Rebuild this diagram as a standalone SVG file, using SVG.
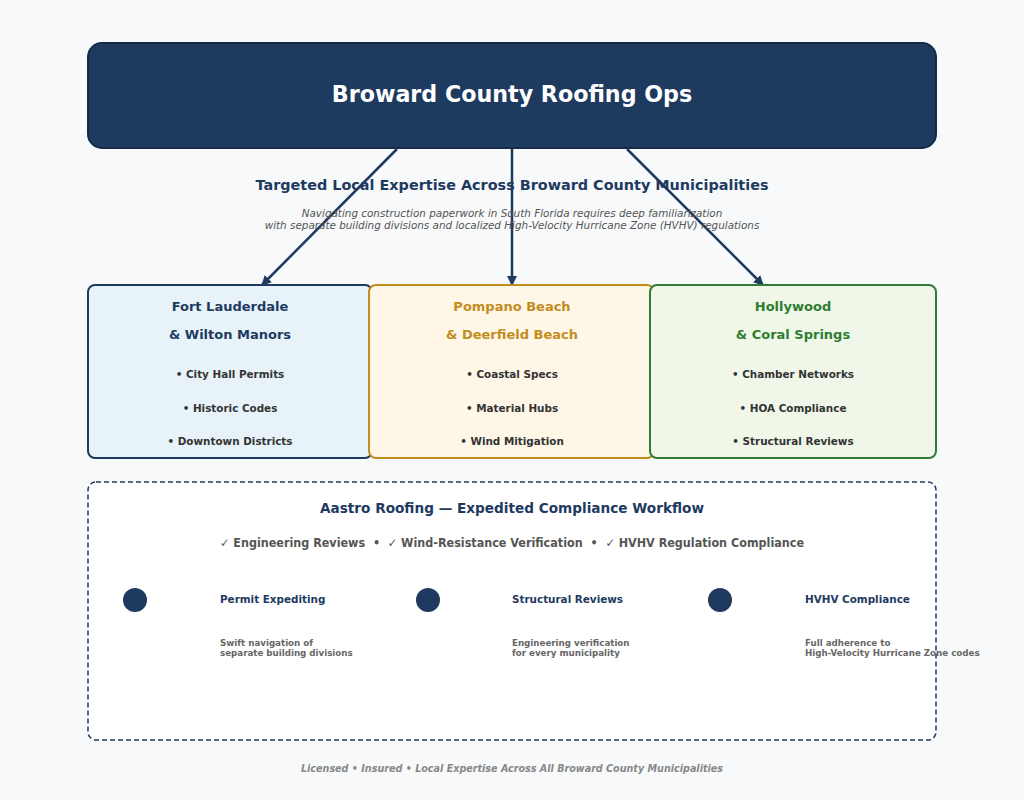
<svg xmlns="http://www.w3.org/2000/svg" width="1024" height="800" viewBox="0 0 1024 800">
<defs>
<marker id="ah" viewBox="0 0 10 10" refX="9" refY="5" markerWidth="4" markerHeight="4" orient="auto"><path d="M0,0 L10,5 L0,10 z" fill="#1e3a5f"/></marker>
<style>
text{font-family:"DejaVu Sans","Liberation Sans",sans-serif;text-anchor:middle}
.ttl{font-size:13px;font-weight:bold}
.bul{font-size:10.4px;font-weight:bold;fill:#333}
.box{stroke-width:2}
.lbl{font-size:10.4px;font-weight:bold;fill:#1e3a5f;text-anchor:start}
.dsc{font-size:8.7px;font-weight:bold;fill:#666;text-anchor:start}
.conn line{stroke:#1e3a5f;stroke-width:2.5;marker-end:url(#ah)}
</style>
</defs>
<rect width="1024" height="800" fill="#f7f9fb"/>
<g id="header">
<rect x="88" y="43" width="848" height="105" rx="14" fill="#1e3a5f" stroke="#152b47" stroke-width="2"/>
<text x="512" y="102" font-size="22.2" font-weight="bold" fill="#fff">Broward County Roofing Ops</text>
</g>
<g id="connectors" class="conn">
<line x1="397" y1="149" x2="262" y2="285"/>
<line x1="512" y1="149" x2="512" y2="285"/>
<line x1="627" y1="149" x2="763" y2="285"/>
</g>
<g id="intro">
<text x="512" y="190" font-size="14.4" font-weight="bold" fill="#1e3a5f">Targeted Local Expertise Across Broward County Municipalities</text>
<text x="512" y="217" font-size="10.4" font-style="italic" fill="#555">Navigating construction paperwork in South Florida requires deep familiarization</text>
<text x="512" y="229" font-size="10.4" font-style="italic" fill="#555">with separate building divisions and localized High-Velocity Hurricane Zone (HVHV) regulations</text>
</g>
<g id="fort-lauderdale">
<rect class="box" x="88" y="285" width="284" height="173" rx="7" fill="#e8f3f9" stroke="#1e3a5f"/>
<text class="ttl" x="230" y="311" fill="#1e3a5f">Fort Lauderdale</text>
<text class="ttl" x="230" y="339" fill="#1e3a5f">&amp; Wilton Manors</text>
<text class="bul" x="230" y="378">• City Hall Permits</text>
<text class="bul" x="230" y="412">• Historic Codes</text>
<text class="bul" x="230" y="445">• Downtown Districts</text>
</g>
<g id="pompano-beach">
<rect class="box" x="369" y="285" width="285" height="173" rx="7" fill="#fef6e7" stroke="#c38d1d"/>
<text class="ttl" x="512" y="311" fill="#c38d1d">Pompano Beach</text>
<text class="ttl" x="512" y="339" fill="#c38d1d">&amp; Deerfield Beach</text>
<text class="bul" x="512" y="378">• Coastal Specs</text>
<text class="bul" x="512" y="412">• Material Hubs</text>
<text class="bul" x="512" y="445">• Wind Mitigation</text>
</g>
<g id="hollywood">
<rect class="box" x="650" y="285" width="286" height="173" rx="7" fill="#f0f7e9" stroke="#2e7d32"/>
<text class="ttl" x="793" y="311" fill="#2e7d32">Hollywood</text>
<text class="ttl" x="793" y="339" fill="#2e7d32">&amp; Coral Springs</text>
<text class="bul" x="793" y="378">• Chamber Networks</text>
<text class="bul" x="793" y="412">• HOA Compliance</text>
<text class="bul" x="793" y="445">• Structural Reviews</text>
</g>
<g id="workflow">
<rect x="88" y="482" width="848" height="258" rx="8" fill="#fff" stroke="#1e3a5f" stroke-width="1.5" stroke-dasharray="5,3"/>
<text x="512" y="513" font-size="14" font-weight="bold" fill="#1e3a5f" textLength="384" lengthAdjust="spacingAndGlyphs">Aastro Roofing — Expedited Compliance Workflow</text>
<text x="512" y="547" font-size="12" font-weight="bold" fill="#555" textLength="584" lengthAdjust="spacingAndGlyphs" style="white-space:pre">✓ Engineering Reviews  •  ✓ Wind-Resistance Verification  •  ✓ HVHV Regulation Compliance</text>
</g>
<g id="step-permit">
<circle cx="135" cy="600" r="12" fill="#1e3a5f"/>
<text class="lbl" x="220" y="603">Permit Expediting</text>
<text class="dsc" x="220" y="646">Swift navigation of</text>
<text class="dsc" x="220" y="656">separate building divisions</text>
</g>
<g id="step-structural">
<circle cx="428" cy="600" r="12" fill="#1e3a5f"/>
<text class="lbl" x="512" y="603">Structural Reviews</text>
<text class="dsc" x="512" y="646">Engineering verification</text>
<text class="dsc" x="512" y="656">for every municipality</text>
</g>
<g id="step-hvhv">
<circle cx="720" cy="600" r="12" fill="#1e3a5f"/>
<text class="lbl" x="805" y="603">HVHV Compliance</text>
<text class="dsc" x="805" y="646">Full adherence to</text>
<text class="dsc" x="805" y="656">High-Velocity Hurricane Zone codes</text>
</g>
<g id="footer">
<text x="512" y="772" font-size="9.6" font-weight="bold" font-style="italic" fill="#888">Licensed • Insured • Local Expertise Across All Broward County Municipalities</text>
</g>
</svg>
